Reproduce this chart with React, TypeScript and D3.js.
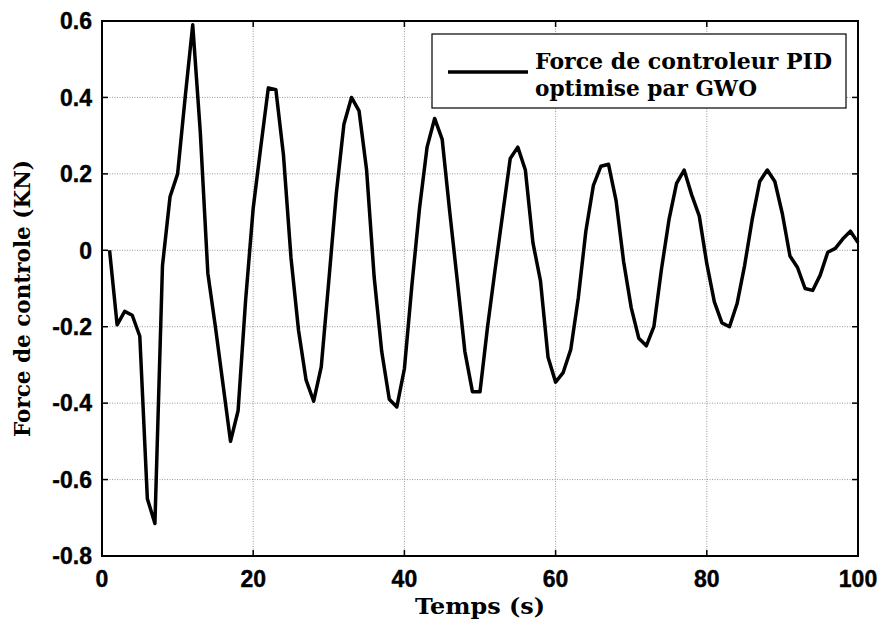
import React from "react";
import * as d3 from "d3";

const timeSteps: number[] = d3.range(1, 101);
const forceValues: number[] = [
  0, -0.195, -0.16, -0.17, -0.225, -0.65, -0.715, -0.04, 0.14, 0.2,
  0.4, 0.59, 0.31, -0.06, -0.2, -0.35, -0.5, -0.42, -0.13, 0.11,
  0.27, 0.425, 0.42, 0.25, -0.02, -0.21, -0.34, -0.395, -0.305, -0.08,
  0.15, 0.33, 0.4, 0.365, 0.21, -0.07, -0.265, -0.39, -0.41, -0.31,
  -0.09, 0.11, 0.27, 0.345, 0.29, 0.1, -0.08, -0.265, -0.37, -0.37,
  -0.2, -0.05, 0.095, 0.24, 0.27, 0.21, 0.02, -0.08, -0.28, -0.345,
  -0.32, -0.26, -0.125, 0.05, 0.17, 0.22, 0.225, 0.13, -0.03, -0.15,
  -0.23, -0.25, -0.2, -0.05, 0.08, 0.175, 0.21, 0.145, 0.09, -0.035,
  -0.135, -0.19, -0.2, -0.14, -0.04, 0.08, 0.18, 0.21, 0.18, 0.095,
  -0.015, -0.045, -0.1, -0.105, -0.065, -0.005, 0.005, 0.03, 0.05, 0.02,
];
const xTicks: number[] = [0, 20, 40, 60, 80, 100];
const yTicks: number[] = [-0.8, -0.6, -0.4, -0.2, 0, 0.2, 0.4, 0.6];
const yTickLabels: string[] = ["-0.8", "-0.6", "-0.4", "-0.2", "0", "0.2", "0.4", "0.6"];
const legendLines: string[] = ["Force de controleur PID", "optimise par GWO"];
const xLabel = "Temps (s)";
const yLabel = "Force de controle (KN)";

const W = 884;
const H = 627;
const L = 102, R = 858, T = 21, B = 556;

export default function App() {
  const x = d3.scaleLinear().domain([0, 100]).range([L, R]);
  const y = d3.scaleLinear().domain([-0.8, 0.6]).range([B, T]);
  const data = timeSteps.map((t, i) => [t, forceValues[i]] as [number, number]);
  const line = d3.line<[number, number]>().x(d => x(d[0])).y(d => y(d[1]));
  const serif = "'DejaVu Serif', serif";
  const sans = "'Liberation Sans', Arial, sans-serif";
  const tk = 6;
  return (
    <svg width={W} height={H} style={{ position: "absolute", left: 0, top: 0, background: "#fff" }}>
      <rect x={0} y={0} width={W} height={H} fill="#fff" />
      {/* grid */}
      {xTicks.filter(v => v > 0 && v < 100).map(v => (
        <line key={"gx" + v} x1={x(v)} x2={x(v)} y1={T} y2={B} stroke="#999" strokeWidth={1} strokeDasharray="1,1.5" />
      ))}
      {yTicks.filter(v => v > -0.8 && v < 0.6).map(v => (
        <line key={"gy" + v} x1={L} x2={R} y1={y(v)} y2={y(v)} stroke="#999" strokeWidth={1} strokeDasharray="1,1.5" />
      ))}
      {/* ticks */}
      {xTicks.map(v => (
        <g key={"tx" + v}>
          <line x1={x(v)} x2={x(v)} y1={B} y2={B - tk} stroke="#000" strokeWidth={1.5} />
          <line x1={x(v)} x2={x(v)} y1={T} y2={T + tk} stroke="#000" strokeWidth={1.5} />
          <text x={x(v)} y={587} textAnchor="middle" fontFamily={sans} fontWeight="bold" fontSize={23} stroke="#000" strokeWidth={0.4}>{v}</text>
        </g>
      ))}
      {yTicks.map((v, i) => (
        <g key={"ty" + v}>
          <line x1={L} x2={L + tk} y1={y(v)} y2={y(v)} stroke="#000" strokeWidth={1.5} />
          <line x1={R} x2={R - tk} y1={y(v)} y2={y(v)} stroke="#000" strokeWidth={1.5} />
          <text x={92} y={y(v)} dy="0.36em" textAnchor="end" fontFamily={sans} fontWeight="bold" fontSize={23} stroke="#000" strokeWidth={0.4}>{yTickLabels[i]}</text>
        </g>
      ))}
      {/* data line */}
      <path d={line(data) || ""} fill="none" stroke="#000" strokeWidth={3.5} strokeLinejoin="round" />
      {/* axes box */}
      <rect x={L} y={T} width={R - L} height={B - T} fill="none" stroke="#000" strokeWidth={2} />
      {/* legend */}
      <rect x={432} y={34} width={414} height={74} fill="#fff" stroke="#000" strokeWidth={1.2} />
      <line x1={448} x2={528} y1={72} y2={72} stroke="#000" strokeWidth={3.5} />
      <text x={535} y={69} fontFamily={serif} fontWeight="bold" fontSize={22} textLength={297} lengthAdjust="spacingAndGlyphs">{legendLines[0]}</text>
      <text x={535} y={96} fontFamily={serif} fontWeight="bold" fontSize={22} textLength={222} lengthAdjust="spacingAndGlyphs">{legendLines[1]}</text>
      {/* axis labels */}
      <text x={480} y={614} textAnchor="middle" fontFamily={serif} fontWeight="bold" fontSize={22} textLength={130} lengthAdjust="spacingAndGlyphs">{xLabel}</text>
      <text transform={`translate(30,${(160 + 437) / 2}) rotate(-90)`} textAnchor="middle" fontFamily={serif} fontWeight="bold" fontSize={22} textLength={277} lengthAdjust="spacingAndGlyphs">{yLabel}</text>
    </svg>
  );
}
